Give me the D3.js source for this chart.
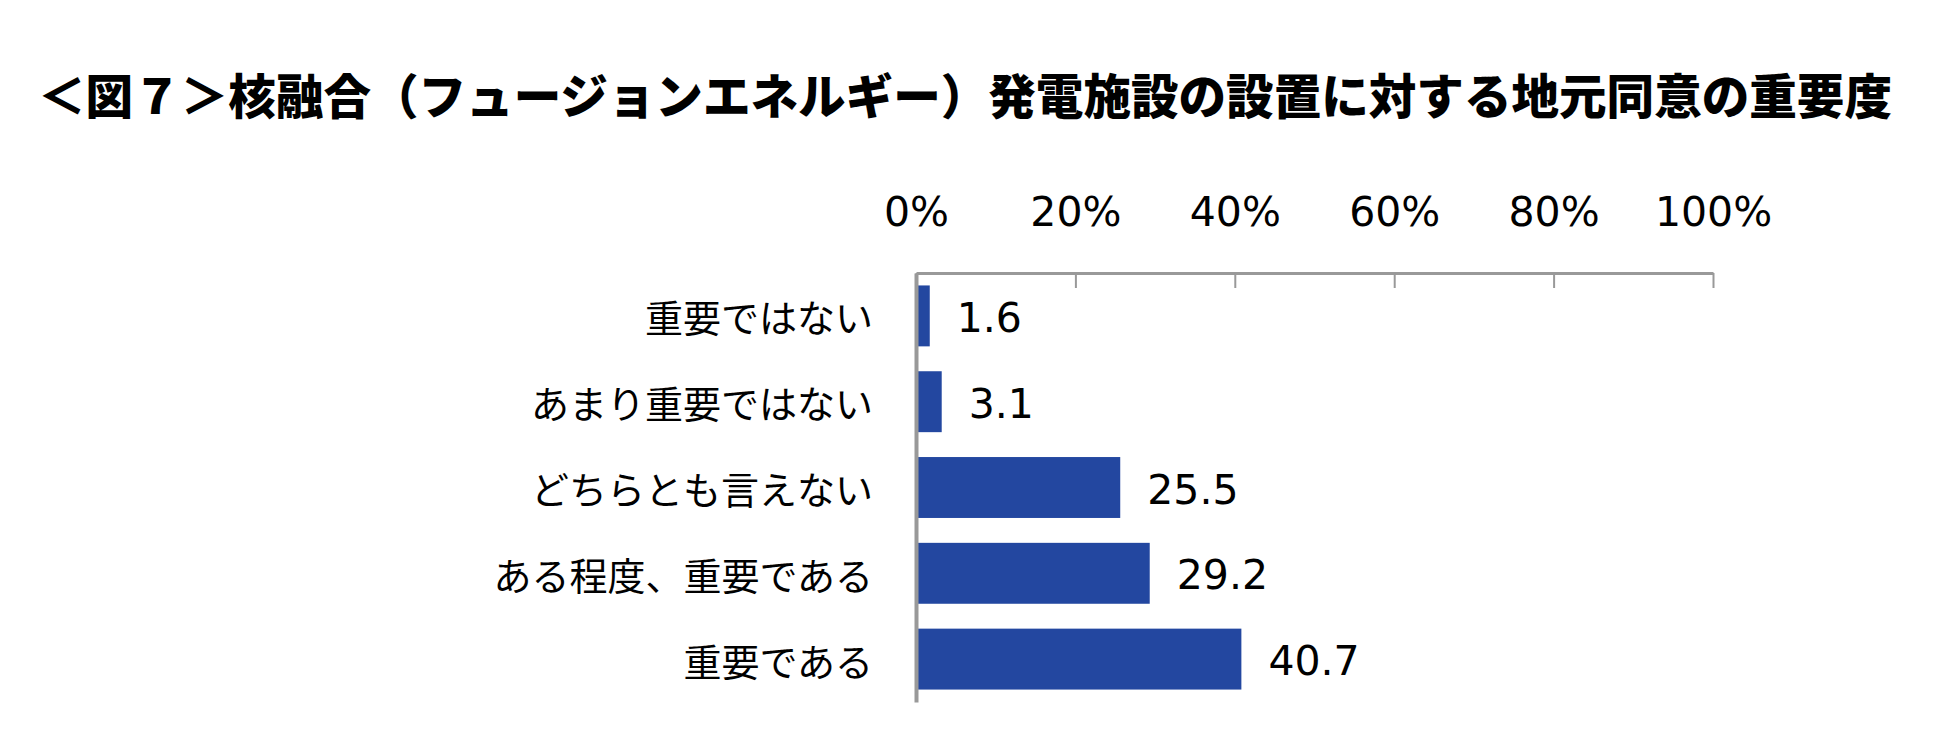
<!DOCTYPE html>
<html>
<head>
<meta charset="utf-8">
<script src="https://cdn.jsdelivr.net/npm/d3@7"></script>
<style>
  html, body { margin: 0; padding: 0; background: #fff; }
  svg { display: block; }
</style>
</head>
<body>
<svg></svg>
<script>
const TITLE = "＜図７＞核融合（フュージョンエネルギー）発電施設の設置に対する地元同意の重要度"
const categories = ["重要ではない", "あまり重要ではない", "どちらとも言えない", "ある程度、重要である", "重要である"]
const values = [1.6, 3.1, 25.5, 29.2, 40.7]
const tickValues = [0, 20, 40, 60, 80, 100]

const [WIDTH, HEIGHT] = [1950, 730]
const PLOT = { left: 916, right: 1713, top: 273, bottom: 702 }
const BAR_COLOR = "#2347a0"
const AXIS_COLOR = "#999"
const NUM_FONT = "'DejaVu Sans', Verdana, sans-serif"
const JP_FONT = "'Noto Sans CJK JP', sans-serif"

const svg = d3.select("svg")
  .attr("width", WIDTH)
  .attr("height", HEIGHT)
  .attr("viewBox", `0 0 ${WIDTH} ${HEIGHT}`)

// Title
svg.append("text")
  .attr("x", 38)
  .attr("y", 93)
  .attr("dominant-baseline", "central")
  .attr("font-family", JP_FONT)
  .attr("font-weight", 900)
  .attr("font-size", 48)
  .attr("textLength", 1854)
  .attr("lengthAdjust", "spacingAndGlyphs")
  .attr("fill", "#000")
  .text(TITLE)

const x = d3.scaleLinear().domain([0, 100]).range([PLOT.left, PLOT.right])
const y = d3.scaleBand().domain(categories).range([PLOT.top, PLOT.bottom]).paddingInner(0.29).paddingOuter(0.145)

// Bars
svg.selectAll("rect.bar")
  .data(values)
  .enter()
  .append("rect")
  .classed("bar", true)
  .attr("x", x(0) + 1)
  .attr("y", (d, i) => y(categories[i]))
  .attr("width", (d) => x(d) - x(0))
  .attr("height", y.bandwidth())
  .attr("fill", BAR_COLOR)

// Top axis (ticks point down into the plot)
const xAxis = svg.append("g")
  .attr("transform", `translate(0,${PLOT.top})`)
  .call(d3.axisBottom(x).tickValues(tickValues).tickSize(15).tickSizeOuter(0).tickFormat((d) => `${d}%`))
xAxis.select(".domain").attr("stroke", AXIS_COLOR).attr("stroke-width", 3)
xAxis.selectAll(".tick line").attr("stroke", AXIS_COLOR).attr("stroke-width", 2)
xAxis.selectAll(".tick text")
  .attr("y", -61)
  .attr("dy", null)
  .attr("dominant-baseline", "central")
  .attr("font-family", NUM_FONT)
  .attr("font-size", 41)
  .attr("fill", "#000")

// Left axis line
const yAxis = svg.append("g")
  .attr("transform", `translate(${PLOT.left},0)`)
  .call(d3.axisLeft(y).tickSize(0).tickPadding(43))
yAxis.select(".domain").attr("stroke", AXIS_COLOR).attr("stroke-width", 4)
yAxis.selectAll(".tick text")
  .attr("dy", null)
  .attr("dominant-baseline", "central")
  .attr("font-family", JP_FONT)
  .attr("font-size", 38)
  .attr("fill", "#000")

// Value labels
svg.selectAll("text.value")
  .data(values)
  .enter()
  .append("text")
  .classed("value", true)
  .attr("x", (d) => x(d) + 28)
  .attr("y", (d, i) => y(categories[i]) + y.bandwidth() / 2 + 2)
  .attr("dominant-baseline", "central")
  .attr("font-family", NUM_FONT)
  .attr("font-size", 41)
  .attr("fill", "#000")
  .text((d) => d.toFixed(1))
</script>
</body>
</html>
